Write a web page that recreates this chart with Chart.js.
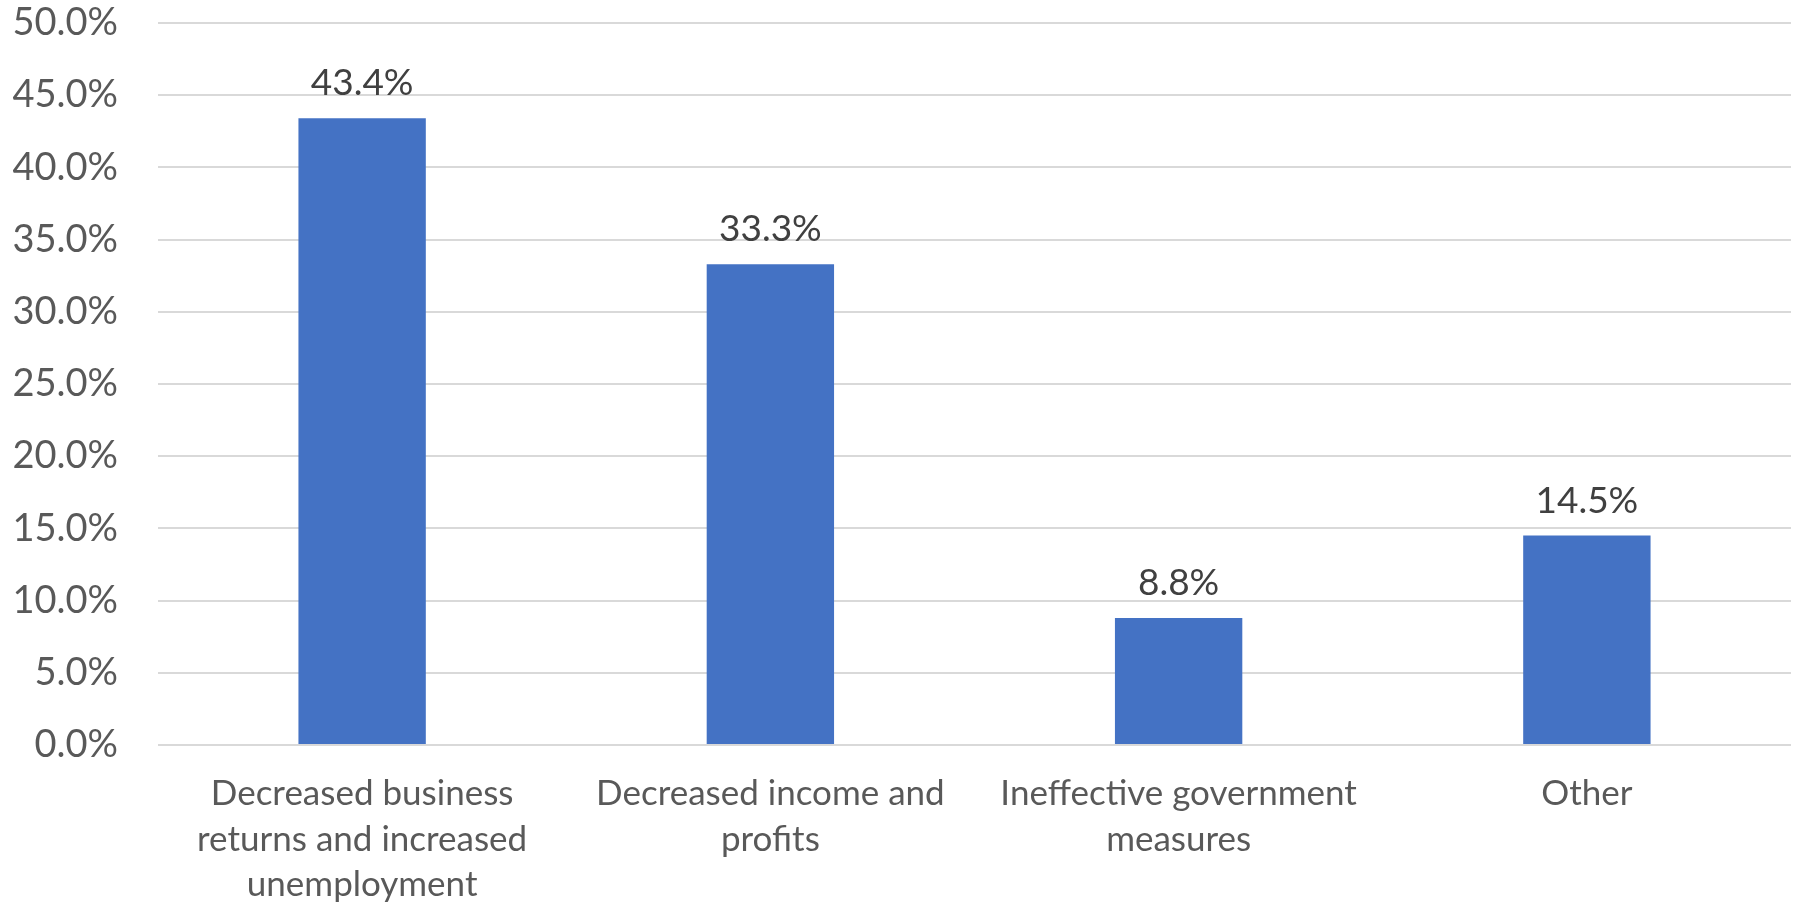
<!DOCTYPE html>
<html>
<head>
<meta charset="utf-8">
<script src="https://cdn.jsdelivr.net/npm/chart.js@4.4.1/dist/chart.umd.min.js"></script>
<style>
  html, body { margin: 0; padding: 0; background: #ffffff; }
  #wrap { width: 1793px; height: 902px; }
</style>
</head>
<body>
<div id="wrap"><canvas id="c" width="1793" height="902"></canvas></div>
<script>
const categories = [
  ["Decreased business", "returns and increased", "unemployment"],
  ["Decreased income and", "profits"],
  ["Ineffective government", "measures"],
  ["Other"]
];
const values = [43.4, 33.3, 8.8, 14.5];
const yTicks = [0, 5, 10, 15, 20, 25, 30, 35, 40, 45, 50];

const FONT = "Lato, 'Open Sans', sans-serif";

const valueLabels = {
  id: 'valueLabels',
  afterDatasetsDraw(chart) {
    const ctx = chart.ctx;
    const meta = chart.getDatasetMeta(0);
    ctx.save();
    ctx.font = "37px " + FONT;
    ctx.fillStyle = "#404040";
    ctx.textAlign = "center";
    ctx.textBaseline = "alphabetic";
    meta.data.forEach((bar, i) => {
      ctx.fillText(values[i].toFixed(1) + "%", bar.x, bar.y - 23);
    });
    ctx.restore();
  }
};

new Chart(document.getElementById('c'), {
  type: 'bar',
  data: {
    labels: categories,
    datasets: [{
      data: values,
      backgroundColor: '#4472c4',
      borderWidth: 0,
      categoryPercentage: 1.0,
      barPercentage: 0.312
    }]
  },
  options: {
    responsive: false,
    animation: false,
    layout: { padding: { top: 23, right: 2, left: 0, bottom: 0 } },
    plugins: {
      legend: { display: false },
      tooltip: { enabled: false }
    },
    scales: {
      x: {
        grid: { display: false, drawTicks: false },
        border: { display: false },
        ticks: {
          color: '#595959',
          font: { family: FONT, size: 35, lineHeight: 1.3 },
          padding: 26,
          maxRotation: 0,
          autoSkip: false
        },
        afterFit(scale) { scale.height = 157; }
      },
      y: {
        min: 0,
        max: 50,
        afterBuildTicks(scale) { scale.ticks = yTicks.map(v => ({ value: v })); },
        grid: { color: '#d9d9d9', lineWidth: 2, drawTicks: false },
        border: { display: false },
        ticks: {
          color: '#595959',
          font: { family: FONT, size: 38 },
          padding: 40,
          callback: (v) => Number(v).toFixed(1) + '%'
        },
        afterFit(scale) {
          scale.width = 158;
          scale.paddingTop = 0;
          scale.paddingBottom = 0;
        }
      }
    }
  },
  plugins: [valueLabels]
});
</script>
</body>
</html>
